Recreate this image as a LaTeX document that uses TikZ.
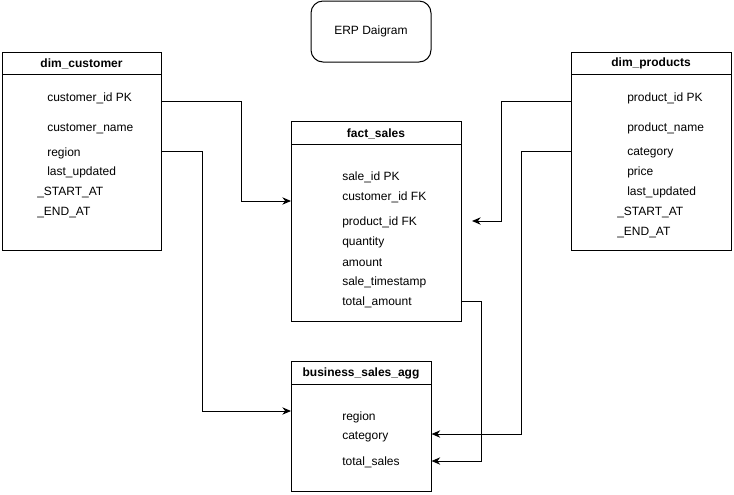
\documentclass[tikz,border=0pt]{standalone}
\usepackage{fontspec}
\setmainfont{Liberation Sans}
\usetikzlibrary{arrows.meta, positioning, calc}

\begin{document}
\begin{tikzpicture}[x=0.75pt, y=-0.75pt, font=\fontsize{9}{11}\selectfont,
    field/.style={anchor=west, inner sep=0pt, yshift=-1pt},
    title/.style={font=\fontsize{9}{11}\selectfont\bfseries, inner sep=0pt, yshift=-0.5pt},
    conn/.style={line width=0.75pt, -{Stealth[length=6.5pt, width=5.5pt]}}]
    \useasboundingbox (0,0) rectangle (734,494);
    % Title
    \node[draw, line width=0.75pt, rounded corners=9pt, minimum width=90pt, minimum height=45.75pt] (erp) at (371,31.5) {ERP Daigram};
    % dim_customer
    \draw[line width=0.75pt] (2,52) rectangle (161,250);
    \node[minimum width=119.25pt, minimum height=148.5pt, anchor=north west, inner sep=0pt] (cust) at (2,52) {};
    \draw[line width=0.75pt] (2,74) -- (161,74);
    \node[title] (custtitle) at (81.5,63) {dim\_customer};
    \node[field] (cust1) at (47,97) {customer\_id PK};
    \node[field] (cust2) at (47,127) {customer\_name};
    \node[field] (cust3) at (47,152) {region};
    \node[field] (cust4) at (47,171) {last\_updated};
    \node[field] (cust5) at (37,191) {\_START\_AT};
    \node[field] (cust6) at (37,211) {\_END\_AT};
    % fact_sales
    \draw[line width=0.75pt] (291,121) rectangle (461,321);
    \node[minimum width=127.5pt, minimum height=150pt, anchor=north west, inner sep=0pt] (fact) at (291,121) {};
    \draw[line width=0.75pt] (291,144) -- (461,144);
    \node[title] (facttitle) at (376,133) {fact\_sales};
    \node[field] (fact1) at (342,176) {sale\_id PK};
    \node[field] (fact2) at (342,196) {customer\_id FK};
    \node[field] (fact3) at (342,221) {product\_id FK};
    \node[field] (fact4) at (342,241) {quantity};
    \node[field] (fact5) at (342,261) {amount};
    \node[field] (fact6) at (342,281) {sale\_timestamp};
    \node[field] (fact7) at (342,301) {total\_amount};
    % dim_products
    \draw[line width=0.75pt] (571,52) rectangle (731,250);
    \node[minimum width=120pt, minimum height=148.5pt, anchor=north west, inner sep=0pt] (prod) at (571,52) {};
    \draw[line width=0.75pt] (571,74) -- (731,74);
    \node[title] (prodtitle) at (651,63) {dim\_products};
    \node[field] (prod1) at (627,97) {product\_id PK};
    \node[field] (prod2) at (627,127) {product\_name};
    \node[field] (prod3) at (627,152) {category};
    \node[field] (prod4) at (627,171) {price};
    \node[field] (prod5) at (627,191) {last\_updated};
    \node[field] (prod6) at (617,211) {\_START\_AT};
    \node[field] (prod7) at (617,231) {\_END\_AT};
    % business_sales_agg
    \draw[line width=0.75pt] (291,361) rectangle (431,491);
    \node[minimum width=105pt, minimum height=97.5pt, anchor=north west, inner sep=0pt] (agg) at (291,361) {};
    \draw[line width=0.75pt] (291,384) -- (431,384);
    \node[title] (aggtitle) at (361,373) {business\_sales\_agg};
    \node[field] (agg1) at (342,416) {region};
    \node[field] (agg2) at (342,436) {category};
    \node[field] (agg3) at (342,461) {total\_sales};
    % connectors
    \coordinate (prodin) at (472,221);
    \draw[conn] (cust.east |- 0,101) -- (241,101) |- (fact.west |- 0,201);
    \draw[conn] (cust.east |- 0,151) -- (202,151) |- (agg.west |- 0,411);
    \draw[conn] (prod.west |- 0,101) -- (501,101) |- (prodin);
    \draw[conn] (prod.west |- 0,151) -- (521,151) |- (agg.east |- 0,434);
    \draw[conn] (fact.east |- 0,301) -- (481,301) |- (agg.east |- 0,461);
\end{tikzpicture}
\end{document}
